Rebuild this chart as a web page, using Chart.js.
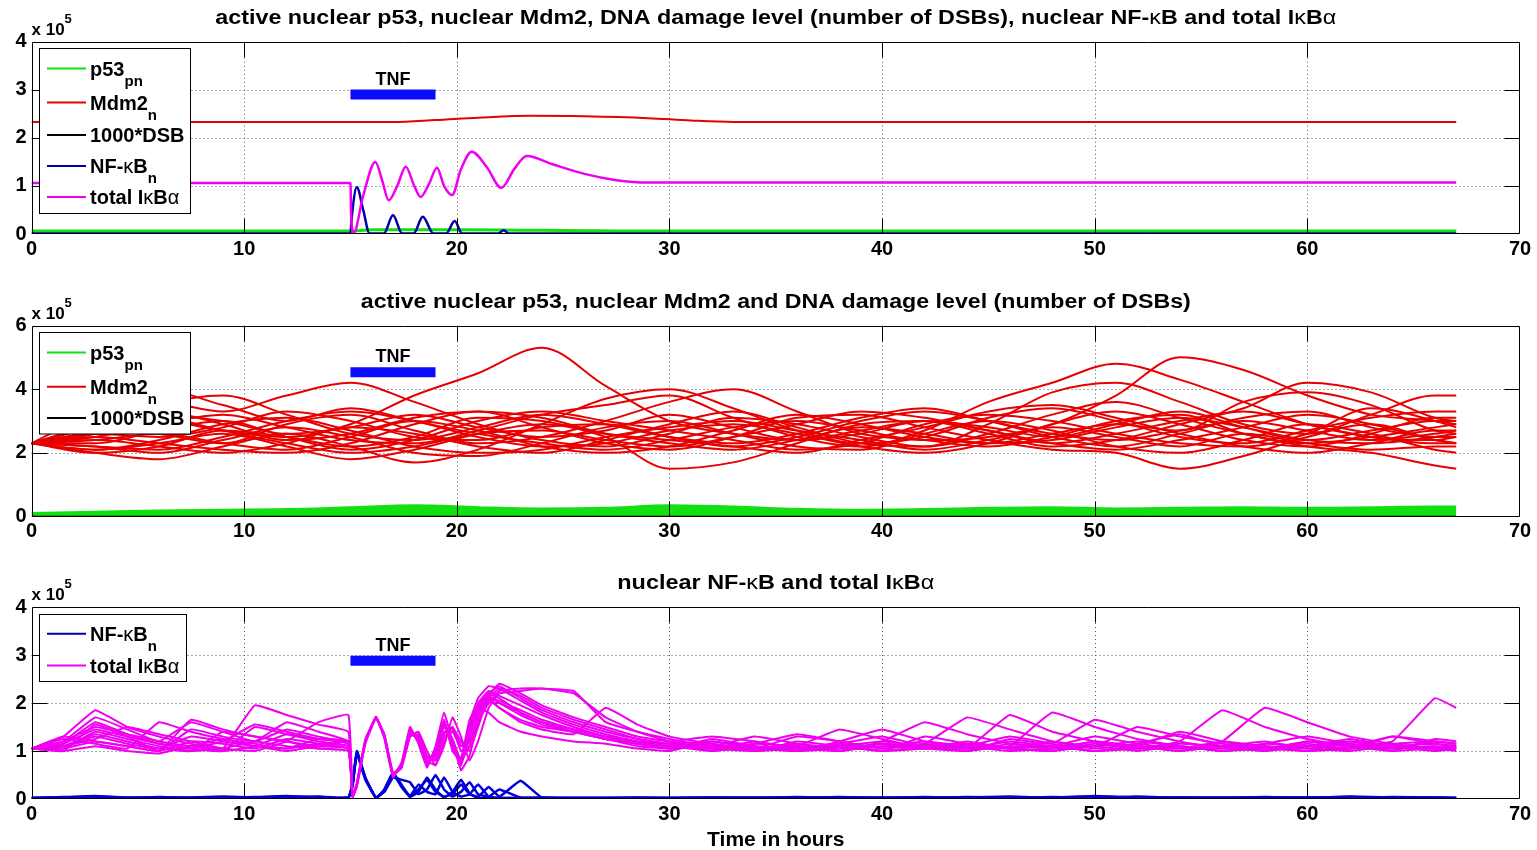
<!DOCTYPE html>
<html lang="es">
<head>
<meta charset="utf-8">
<title>p53 / NF-kB</title>
<script src="https://cdn.jsdelivr.net/npm/chart.js@4/dist/chart.umd.min.js"></script>
<style>
  html, body { margin: 0; padding: 0; background: #fff; }
  body { width: 1537px; height: 850px; position: relative; overflow: hidden; }
  canvas { position: absolute; left: 0; }
</style>
</head>
<body>
<canvas id="panel1" width="1537" height="270" style="top:0px"></canvas>
<canvas id="panel2" width="1537" height="280" style="top:270px"></canvas>
<canvas id="panel3" width="1537" height="300" style="top:550px"></canvas>
<script>
// ---- Datos (valores en unidades de 10^5, tiempo en horas) ----
const ticksX = [0, 10, 20, 30, 40, 50, 60, 70];
const ticksYP1 = [0, 1, 2, 3, 4];
const ticksYP2 = [0, 2, 4, 6];
const ticksYP3 = [0, 1, 2, 3, 4];

// ventana del pulso TNF y altura de la barra en cada panel
const tnfVentana = [15, 19];
const tnfNivel = [2.9, 4.53, 2.88];

// Panel 1: una sola simulacion
const p1P53T = [0, 15, 16, 20, 23, 26, 28, 67];
const p1P53 = [0.06, 0.06, 0.09, 0.09, 0.08, 0.07, 0.06, 0.06];
const p1Mdm2T = [0, 17, 19, 21, 23.5, 26, 29, 31, 33, 67];
const p1Mdm2 = [2.33, 2.33, 2.37, 2.42, 2.46, 2.45, 2.41, 2.36, 2.33, 2.33];
const p1DsbT = [0, 67];
const p1Dsb = [0, 0];
const p1NfkbT = [0, 15, 15.05, 15.3, 15.6, 15.9, 16.57, 17.0, 17.43, 17.97, 18.4, 18.9, 19.5, 19.9, 20.25, 21.95, 22.2, 22.45, 67];
const p1Nfkb = [0.01, 0.01, 0.3, 0.97, 0.5, 0.01, 0.01, 0.39, 0.01, 0.01, 0.36, 0.01, 0.01, 0.27, 0.01, 0.01, 0.08, 0.01, 0.01];
const p1IkbaT = [0, 15, 15.03, 15.15, 15.6, 16.17, 16.5, 16.8, 17.2, 17.6, 18.0, 18.3, 18.7, 19.07, 19.4, 19.78, 20.2, 20.7, 21.4, 22.1, 22.7, 23.3, 24.5, 26, 27.5, 29, 67];
const p1Ikba = [1.06, 1.06, 0.4, 0.02, 0.8, 1.5, 1.1, 0.7, 1.0, 1.4, 1.0, 0.77, 1.05, 1.38, 1.0, 0.81, 1.35, 1.71, 1.4, 0.96, 1.35, 1.62, 1.45, 1.25, 1.12, 1.07, 1.07];

// Panel 2: trayectorias estocasticas de Mdm2 y banda de p53
const tiempoP2 = [0, 3, 6, 9, 12, 15, 18, 21, 24, 27, 30, 33, 36, 39, 42, 45, 48, 51, 54, 57, 60, 63, 66, 67];
const p2Mdm2 = [
  [2.3, 2.6, 3.0, 2.7, 2.5, 2.9, 3.8, 4.5, 5.3, 4.1, 3.0, 2.6, 2.4, 2.7, 3.0, 2.8, 2.5, 2.9, 3.3, 2.8, 2.4, 2.7, 3.0, 3.0],
  [2.3, 2.9, 3.6, 3.3, 3.8, 4.2, 3.6, 2.9, 2.4, 2.2, 2.6, 3.1, 2.9, 2.5, 2.2, 2.6, 3.2, 3.6, 3.1, 2.6, 2.3, 2.5, 2.8, 2.9],
  [2.3, 3.3, 4.0, 3.5, 3.0, 3.4, 3.0, 2.6, 2.3, 2.1, 2.4, 2.8, 3.0, 2.7, 2.4, 2.5, 2.9, 3.8, 5.0, 4.6, 3.8, 3.2, 3.0, 2.9],
  [2.3, 2.0, 1.8, 2.2, 2.6, 2.2, 1.7, 2.1, 2.9, 3.7, 4.0, 3.4, 2.7, 2.3, 2.5, 3.1, 3.4, 3.0, 2.5, 2.3, 2.7, 3.1, 3.3, 3.3],
  [2.3, 2.5, 2.9, 3.2, 2.8, 2.4, 2.3, 2.7, 3.2, 3.5, 3.8, 3.1, 2.5, 2.2, 2.7, 3.6, 4.2, 4.8, 4.3, 3.6, 2.9, 2.5, 2.3, 2.3],
  [2.3, 2.1, 2.3, 2.6, 2.2, 1.8, 2.1, 2.6, 2.9, 2.5, 1.5, 1.7, 2.3, 2.9, 3.0, 2.6, 2.2, 2.4, 2.9, 3.4, 4.2, 3.9, 3.1, 3.0],
  [2.3, 2.7, 3.3, 2.9, 2.4, 2.6, 3.1, 3.3, 2.8, 2.3, 2.1, 2.5, 3.1, 3.2, 2.8, 2.4, 2.1, 2.0, 1.5, 1.9, 2.5, 2.9, 2.4, 2.3],
  [2.3, 2.4, 2.2, 2.0, 2.3, 2.8, 2.6, 2.2, 2.0, 2.4, 2.9, 3.3, 2.8, 2.3, 2.2, 2.9, 3.9, 4.2, 3.6, 2.9, 2.6, 3.2, 3.8, 3.8],
  [2.3, 2.8, 2.6, 2.3, 2.9, 3.2, 2.7, 2.3, 2.5, 3.0, 3.6, 4.0, 3.3, 2.6, 2.4, 2.2, 2.5, 3.0, 3.2, 2.6, 2.2, 2.0, 1.6, 1.5],
  [2.3, 2.2, 2.0, 2.4, 2.8, 2.5, 2.0, 1.9, 2.3, 2.8, 3.0, 2.6, 2.2, 2.1, 2.6, 3.0, 2.7, 2.2, 2.0, 2.4, 2.9, 2.6, 2.1, 2.0],
  [2.3, 2.6, 2.5, 2.8, 3.3, 3.0, 2.5, 2.4, 2.8, 2.9, 2.5, 2.2, 2.5, 3.0, 3.3, 3.0, 2.5, 2.2, 2.6, 3.1, 3.3, 2.8, 2.5, 2.5],
  [2.3, 2.3, 2.7, 3.0, 2.5, 2.1, 2.4, 3.0, 3.3, 3.0, 2.7, 2.4, 2.1, 2.3, 2.9, 3.2, 3.0, 2.6, 2.3, 2.2, 2.6, 3.4, 3.0, 2.8],
  [2.3, 2.5, 2.3, 2.1, 2.0, 2.3, 2.9, 3.3, 3.1, 2.6, 2.3, 2.1, 2.4, 2.8, 2.6, 2.3, 2.6, 2.9, 2.7, 3.6, 3.9, 3.5, 2.7, 2.6],
  [2.3, 2.1, 2.4, 2.9, 3.1, 2.7, 2.2, 2.0, 2.1, 2.5, 2.8, 3.0, 2.7, 2.4, 2.1, 2.4, 2.8, 2.5, 2.2, 2.6, 2.3, 2.1, 2.2, 2.2],
  [2.3, 2.7, 3.5, 3.8, 3.2, 2.6, 2.4, 2.8, 3.2, 2.9, 2.5, 2.3, 2.6, 3.1, 3.4, 3.0, 2.6, 2.4, 2.7, 3.0, 2.7, 2.4, 2.6, 2.7],
  [2.3, 2.4, 2.6, 2.3, 2.1, 2.5, 3.0, 2.7, 2.2, 2.0, 2.2, 2.7, 3.2, 2.9, 2.5, 2.3, 2.4, 2.8, 3.1, 2.8, 2.4, 2.3, 2.5, 2.6],
  [2.3, 2.2, 2.1, 2.5, 3.0, 3.3, 3.0, 2.5, 2.2, 2.3, 2.7, 2.9, 2.6, 2.2, 2.0, 2.3, 2.9, 3.3, 2.9, 2.4, 2.2, 2.6, 3.1, 3.1],
  [2.3, 2.6, 3.1, 2.7, 2.3, 2.0, 2.2, 2.6, 2.7, 2.4, 2.2, 2.5, 2.9, 3.3, 3.1, 2.7, 2.3, 2.1, 2.4, 2.8, 3.2, 2.9, 2.4, 2.3],
  [2.3, 2.0, 2.2, 2.7, 2.5, 2.2, 2.5, 3.1, 3.0, 2.6, 2.4, 2.2, 2.0, 2.4, 2.8, 3.3, 3.5, 3.1, 2.6, 2.2, 2.0, 2.3, 2.7, 2.7],
  [2.3, 2.8, 3.2, 3.0, 2.6, 2.8, 3.2, 2.8, 2.5, 2.7, 3.2, 2.8, 2.4, 2.6, 3.0, 2.7, 2.3, 2.6, 3.0, 3.3, 2.9, 2.5, 2.4, 2.5]
];
// borde superior de la banda verde de p53
const p2P53Sup = [0.12, 0.16, 0.2, 0.22, 0.24, 0.3, 0.36, 0.3, 0.26, 0.28, 0.36, 0.32, 0.25, 0.22, 0.24, 0.28, 0.3, 0.26, 0.28, 0.3, 0.28, 0.3, 0.32, 0.32];
const p2DsbT = [0, 67];
const p2Dsb = [0, 0];

// Panel 3: trayectorias de IkBa total y NF-kB nuclear
const tiempoP3 = [0, 1.5, 3, 4.5, 6, 7.5, 9, 10.5, 12, 13.5, 14.9,
  15.1, 15.3, 15.7, 16.2, 16.6, 17.0, 17.4, 17.8, 18.2, 18.6, 19.0, 19.4, 19.8, 20.2, 20.6, 21.0, 21.5, 22.0,
  23, 24, 25.5, 27, 28.5, 30,
  32, 34, 36, 38, 40, 42, 44, 46, 48, 50, 52, 54, 56, 58, 60, 62, 64, 66, 67];
const p3Ikba = [
  [1.05, 1.3, 1.85, 1.5, 1.3, 1.15, 1.05, 1.95, 1.75, 1.55, 1.4, 0.05, 0.3, 1.2, 1.72, 1.3, 0.5, 0.7, 1.45, 1.2, 0.7, 1.05, 1.65, 1.0, 0.8, 1.6, 2.1, 2.35, 2.3, 2.05, 1.8, 1.55, 1.35, 1.2, 1.1, 1.15, 1.0, 1.1, 1.45, 1.25, 1.05, 1.1, 1.3, 1.15, 1.0, 1.1, 1.4, 1.2, 1.05, 1.1, 1.25, 1.1, 1.05, 1.1],
  [1.05, 1.2, 1.7, 1.45, 1.2, 1.6, 1.4, 1.2, 1.45, 1.3, 1.15, 0.05, 0.35, 1.25, 1.7, 1.25, 0.45, 0.75, 1.5, 1.15, 0.65, 1.1, 1.8, 1.2, 0.6, 0.9, 1.6, 2.0, 2.25, 2.3, 2.3, 2.25, 1.6, 1.4, 1.25, 1.1, 1.3, 1.15, 1.0, 1.2, 1.6, 1.35, 1.15, 1.05, 1.2, 1.1, 1.0, 1.2, 1.9, 1.6, 1.3, 1.15, 1.05, 1.1],
  [1.05, 1.1, 1.25, 1.5, 1.35, 1.2, 1.05, 1.0, 1.2, 1.6, 1.75, 0.05, 0.25, 1.15, 1.68, 1.35, 0.55, 0.65, 1.3, 1.35, 0.9, 0.8, 1.3, 1.4, 1.1, 1.3, 1.95, 2.2, 2.1, 1.8, 1.6, 1.45, 1.3, 1.2, 1.15, 1.0, 1.15, 1.35, 1.2, 1.05, 1.15, 1.7, 1.45, 1.2, 1.05, 1.15, 1.35, 1.1, 1.0, 1.2, 1.1, 1.3, 1.2, 1.15],
  [1.05, 1.0, 1.55, 1.3, 1.0, 1.65, 1.45, 1.3, 1.2, 1.05, 1.0, 0.05, 0.3, 1.2, 1.7, 1.3, 0.5, 0.7, 1.4, 1.25, 0.75, 0.95, 1.55, 1.1, 0.7, 1.3, 1.8, 2.05, 1.9, 1.65, 1.5, 1.4, 1.25, 1.15, 1.05, 1.25, 1.1, 1.0, 1.2, 1.45, 1.2, 1.05, 1.1, 1.8, 1.5, 1.25, 1.1, 1.0, 1.15, 1.3, 1.15, 1.05, 1.1, 1.05],
  [1.05, 1.25, 1.15, 1.05, 1.6, 1.4, 1.25, 1.15, 1.05, 1.25, 1.2, 0.05, 0.3, 1.2, 1.7, 1.3, 0.5, 0.75, 1.35, 1.3, 0.8, 0.7, 1.2, 1.5, 1.2, 1.0, 1.5, 2.15, 2.4, 2.2, 1.95, 1.7, 1.5, 1.3, 1.2, 1.3, 1.2, 1.05, 1.15, 1.3, 1.1, 1.0, 1.25, 1.15, 1.65, 1.4, 1.2, 1.05, 1.1, 1.0, 1.2, 1.1, 1.0, 1.05],
  [1.05, 1.1, 1.35, 1.2, 1.05, 1.0, 1.4, 1.3, 1.2, 1.1, 1.05, 0.05, 0.3, 1.2, 1.7, 1.3, 0.5, 0.65, 1.3, 1.4, 1.0, 0.7, 1.1, 1.7, 1.3, 0.8, 1.2, 1.9, 2.2, 2.25, 2.3, 2.2, 1.7, 1.4, 1.2, 1.05, 1.0, 1.2, 1.1, 1.0, 1.3, 1.15, 1.05, 1.2, 1.1, 1.5, 1.3, 1.15, 1.05, 1.2, 1.1, 1.0, 1.25, 1.2],
  [1.05, 1.15, 1.6, 1.35, 1.15, 1.05, 1.0, 1.5, 1.35, 1.2, 1.1, 0.05, 0.3, 1.2, 1.7, 1.3, 0.5, 0.7, 1.4, 1.2, 0.7, 1.0, 1.6, 1.1, 0.75, 1.4, 1.9, 2.1, 1.9, 1.6, 1.45, 1.35, 1.9, 1.55, 1.3, 1.15, 1.05, 1.3, 1.2, 1.05, 1.15, 1.05, 1.75, 1.4, 1.2, 1.05, 1.2, 1.85, 1.5, 1.25, 1.1, 1.05, 1.2, 1.15],
  [1.05, 1.0, 1.1, 1.0, 0.95, 1.1, 1.0, 1.1, 1.35, 1.25, 1.15, 0.05, 0.3, 1.2, 1.7, 1.3, 0.5, 0.7, 1.4, 1.2, 0.75, 1.0, 1.5, 1.25, 0.8, 1.1, 1.75, 2.0, 2.0, 1.8, 1.6, 1.4, 1.25, 1.1, 1.05, 1.1, 1.0, 1.05, 1.1, 1.0, 1.05, 1.2, 1.05, 1.0, 1.1, 1.0, 1.1, 1.0, 1.05, 1.0, 1.1, 1.2, 2.1, 1.9],
  [1.05, 1.3, 1.2, 1.1, 1.0, 1.45, 1.3, 1.2, 1.6, 1.4, 1.2, 0.05, 0.3, 1.2, 1.7, 1.3, 0.5, 0.7, 1.45, 1.2, 0.7, 1.05, 1.6, 1.05, 0.85, 1.65, 1.9, 1.8, 1.6, 1.4, 1.3, 1.2, 1.15, 1.05, 1.0, 1.2, 1.05, 1.0, 1.1, 1.2, 1.1, 1.0, 1.15, 1.1, 1.3, 1.15, 1.05, 1.2, 1.1, 1.0, 1.05, 1.3, 1.15, 1.1],
  [1.05, 1.05, 1.4, 1.25, 1.1, 1.0, 1.05, 1.2, 1.1, 1.05, 1.0, 0.05, 0.3, 1.2, 1.7, 1.3, 0.5, 0.7, 1.35, 1.3, 0.85, 0.9, 1.4, 1.45, 1.0, 1.2, 1.7, 2.2, 2.35, 2.1, 1.85, 1.6, 1.4, 1.25, 1.15, 1.05, 1.2, 1.05, 1.0, 1.1, 1.05, 1.15, 1.05, 1.1, 1.0, 1.1, 1.05, 1.1, 1.2, 1.05, 1.15, 1.0, 1.05, 1.0],
  [1.05, 1.15, 1.45, 1.3, 1.15, 1.05, 1.2, 1.55, 1.4, 1.25, 1.15, 0.05, 0.3, 1.2, 1.7, 1.3, 0.5, 0.7, 1.4, 1.25, 0.75, 1.0, 1.55, 1.15, 0.75, 1.35, 1.85, 2.1, 2.05, 1.85, 1.65, 1.45, 1.3, 1.2, 1.1, 1.05, 1.15, 1.1, 1.0, 1.15, 1.05, 1.0, 1.1, 1.05, 1.2, 1.1, 1.0, 1.1, 1.05, 1.15, 1.05, 1.1, 1.15, 1.1],
  [1.05, 1.1, 1.3, 1.15, 1.05, 1.3, 1.2, 1.1, 1.05, 1.15, 1.1, 0.05, 0.3, 1.2, 1.7, 1.3, 0.5, 0.7, 1.45, 1.2, 0.7, 1.05, 1.6, 1.05, 0.8, 1.5, 2.0, 2.25, 2.15, 1.95, 1.75, 1.5, 1.3, 1.15, 1.05, 1.1, 1.05, 1.15, 1.05, 1.1, 1.2, 1.1, 1.0, 1.05, 1.1, 1.2, 1.1, 1.05, 1.15, 1.1, 1.05, 1.15, 1.2, 1.15],
  [1.05, 1.2, 1.5, 1.35, 1.2, 1.1, 1.25, 1.1, 1.0, 1.1, 1.2, 0.05, 0.3, 1.2, 1.7, 1.3, 0.5, 0.7, 1.35, 1.3, 0.85, 0.85, 1.35, 1.5, 1.1, 1.1, 1.6, 2.1, 2.3, 2.15, 1.9, 1.65, 1.45, 1.25, 1.15, 1.2, 1.1, 1.0, 1.05, 1.15, 1.1, 1.05, 1.2, 1.1, 1.0, 1.05, 1.15, 1.1, 1.0, 1.1, 1.2, 1.05, 1.1, 1.05],
  [1.05, 1.05, 1.2, 1.1, 1.0, 1.2, 1.15, 1.05, 1.25, 1.15, 1.05, 0.05, 0.3, 1.2, 1.7, 1.3, 0.5, 0.7, 1.4, 1.2, 0.7, 1.0, 1.65, 1.1, 0.75, 1.45, 1.95, 2.15, 2.0, 1.75, 1.55, 1.4, 1.25, 1.15, 1.1, 1.0, 1.1, 1.05, 1.15, 1.0, 1.1, 1.15, 1.05, 1.0, 1.15, 1.05, 1.1, 1.0, 1.1, 1.05, 1.0, 1.1, 1.05, 1.05]
];
const p3Nfkb = [
  [0.02, 0.04, 0.06, 0.03, 0.02, 0.03, 0.05, 0.03, 0.04, 0.05, 0.03, 0.3, 0.98, 0.45, 0.02, 0.2, 0.55, 0.3, 0.04, 0.15, 0.45, 0.2, 0.03, 0.15, 0.4, 0.12, 0.02, 0.02, 0.02, 0.02, 0.03, 0.02, 0.02, 0.03, 0.02, 0.03, 0.02, 0.04, 0.02, 0.03, 0.02, 0.03, 0.05, 0.02, 0.04, 0.02, 0.03, 0.02, 0.04, 0.02, 0.05, 0.03, 0.02, 0.02],
  [0.02, 0.02, 0.03, 0.02, 0.03, 0.02, 0.02, 0.04, 0.06, 0.03, 0.02, 0.28, 0.95, 0.4, 0.03, 0.18, 0.5, 0.28, 0.06, 0.3, 0.15, 0.1, 0.45, 0.15, 0.05, 0.1, 0.3, 0.05, 0.02, 0.02, 0.02, 0.02, 0.02, 0.02, 0.02, 0.02, 0.03, 0.02, 0.03, 0.02, 0.04, 0.02, 0.02, 0.03, 0.06, 0.03, 0.02, 0.03, 0.02, 0.03, 0.02, 0.04, 0.03, 0.02],
  [0.02, 0.03, 0.02, 0.02, 0.04, 0.02, 0.03, 0.02, 0.02, 0.04, 0.02, 0.32, 1.0, 0.42, 0.03, 0.15, 0.45, 0.4, 0.35, 0.1, 0.2, 0.5, 0.2, 0.05, 0.15, 0.35, 0.1, 0.05, 0.2, 0.03, 0.02, 0.02, 0.02, 0.02, 0.02, 0.02, 0.02, 0.03, 0.02, 0.02, 0.02, 0.04, 0.03, 0.02, 0.02, 0.05, 0.02, 0.02, 0.03, 0.02, 0.02, 0.02, 0.03, 0.02],
  [0.02, 0.02, 0.04, 0.02, 0.02, 0.02, 0.03, 0.02, 0.03, 0.02, 0.04, 0.3, 0.97, 0.44, 0.02, 0.2, 0.55, 0.25, 0.05, 0.2, 0.4, 0.15, 0.05, 0.1, 0.3, 0.1, 0.05, 0.25, 0.05, 0.38, 0.03, 0.02, 0.02, 0.02, 0.02, 0.03, 0.02, 0.02, 0.04, 0.02, 0.03, 0.02, 0.02, 0.04, 0.02, 0.02, 0.03, 0.02, 0.02, 0.03, 0.04, 0.02, 0.02, 0.02]
];

// ---- Colores ----
const VERDE = '#12e012';
const ROJO = '#e80000';
const AZUL = '#0000d8';
const AZUL_OSC = '#0000a8';
const MAGENTA = '#f000f0';
const NEGRO = '#000000';

const FUENTE = '"Liberation Sans", Arial, Helvetica, sans-serif';

// textos con subindices y letras griegas: [texto, tipo] b=negrita g=griega s=subindice p=superindice
const T_P53 = [['p53'], ['pn', 's']];
const T_MDM2 = [['Mdm2'], ['n', 's']];
const T_DSB = [['1000*DSB']];
const T_NFKB = [['NF-'], ['κ', 'g'], ['B'], ['n', 's']];
const T_IKBA = [['total I'], ['κ', 'g'], ['B'], ['α', 'g']];

// configuracion decorativa de cada panel (titulo, leyenda, etc.)
const decorPanel = {
  panel1: {
    titulo: [['active nuclear p53, nuclear Mdm2, DNA damage level (number of DSBs), nuclear NF-'], ['κ', 'g'], ['B and total I'], ['κ', 'g'], ['B'], ['α', 'g']],
    anchoTitulo: 1121,
    tnf: tnfNivel[0],
    leyenda: { w: 151, h: 165, filas: [20, 54, 86.5, 117.5, 148.5],
      items: [[T_P53, VERDE], [T_MDM2, ROJO], [T_DSB, NEGRO], [T_NFKB, AZUL_OSC], [T_IKBA, MAGENTA]] }
  },
  panel2: {
    titulo: [['active nuclear p53, nuclear Mdm2 and DNA damage level (number of DSBs)']],
    anchoTitulo: 830,
    tnf: tnfNivel[1],
    leyenda: { w: 151, h: 101.5, filas: [20, 54.3, 85.6],
      items: [[T_P53, VERDE], [T_MDM2, ROJO], [T_DSB, NEGRO]] }
  },
  panel3: {
    titulo: [['nuclear NF-'], ['κ', 'g'], ['B and total I'], ['κ', 'g'], ['B'], ['α', 'g']],
    anchoTitulo: 317,
    tnf: tnfNivel[2],
    ejeX: 'Time in hours',
    leyenda: { w: 147, h: 67, filas: [19.3, 51],
      items: [[T_NFKB, AZUL_OSC], [T_IKBA, MAGENTA]] }
  }
};

// fuente segun el tipo de segmento
function fuenteSeg(ctx, seg, tam) {
  const tipo = seg[1] || 'b';
  let t = tam, peso = 'bold';
  if (tipo === 'g') peso = 'normal';
  if (tipo === 's' || tipo === 'p') t = Math.round(tam * 0.75);
  ctx.font = `${peso} ${t}px ${FUENTE}`;
}

function anchoRico(ctx, segs, tam) {
  let w = 0;
  segs.forEach(s => { fuenteSeg(ctx, s, tam); w += ctx.measureText(s[0]).width; });
  return w;
}

// dibuja texto enriquecido; x,y = linea base
function textoRico(ctx, segs, x, y, tam, alinear, anchoObjetivo) {
  const w = anchoRico(ctx, segs, tam);
  const sx = anchoObjetivo ? anchoObjetivo / w : 1;
  ctx.save();
  ctx.translate(x, y);
  ctx.scale(sx, 1);
  ctx.fillStyle = '#000';
  ctx.textAlign = 'left';
  ctx.textBaseline = 'alphabetic';
  let cx = alinear === 'center' ? -w / 2 : 0;
  segs.forEach(s => {
    fuenteSeg(ctx, s, tam);
    const tipo = s[1] || 'b';
    const dy = tipo === 's' ? tam * 0.5 : tipo === 'p' ? -tam * 0.7 : 0;
    ctx.fillText(s[0], cx, dy);
    cx += ctx.measureText(s[0]).width;
  });
  ctx.restore();
}

function linea(ctx, x1, y1, x2, y2) {
  ctx.moveTo(x1, y1);
  ctx.lineTo(x2, y2);
}

// Plugin estilo MATLAB: rejilla punteada, caja, marcas, titulo, leyenda
const decorMatlab = {
  id: 'decorMatlab',
  beforeDatasetsDraw(chart) {
    const { ctx, chartArea: a, scales: { x, y } } = chart;
    ctx.save();
    ctx.strokeStyle = '#555';
    ctx.lineWidth = 1;
    ctx.setLineDash([1, 3]);
    ctx.beginPath();
    x.ticks.forEach(t => {
      if (t.value <= x.min || t.value >= x.max) return;
      const px = Math.round(x.getPixelForValue(t.value)) + 0.5;
      linea(ctx, px, a.top, px, a.bottom);
    });
    y.ticks.forEach(t => {
      if (t.value <= y.min || t.value >= y.max) return;
      const py = Math.round(y.getPixelForValue(t.value)) + 0.5;
      linea(ctx, a.left, py, a.right, py);
    });
    ctx.stroke();
    ctx.restore();
  },
  afterDatasetsDraw(chart) {
    const cfg = decorPanel[chart.canvas.id];
    const { ctx, chartArea: a, scales: { x, y } } = chart;
    const L = Math.round(a.left) + 0.5, R = Math.round(a.right) - 0.5;
    const T = Math.round(a.top) + 0.5, B = Math.round(a.bottom) - 0.5;
    ctx.save();
    // caja y marcas hacia dentro
    ctx.strokeStyle = '#000';
    ctx.lineWidth = 1;
    ctx.beginPath();
    ctx.rect(L, T, R - L, B - T);
    x.ticks.forEach(t => {
      if (t.value <= x.min || t.value >= x.max) return;
      const px = Math.round(x.getPixelForValue(t.value)) + 0.5;
      linea(ctx, px, B, px, B - 15);
      linea(ctx, px, T, px, T + 15);
    });
    y.ticks.forEach(t => {
      if (t.value <= y.min || t.value >= y.max) return;
      const py = Math.round(y.getPixelForValue(t.value)) + 0.5;
      linea(ctx, L, py, L + 15, py);
      linea(ctx, R, py, R - 15, py);
    });
    ctx.stroke();

    // titulo y multiplicador
    const cx = (a.left + a.right) / 2;
    textoRico(ctx, cfg.titulo, cx, a.top - 18, 20, 'center', cfg.anchoTitulo);
    textoRico(ctx, [['x 10'], ['5', 'p']], a.left, a.top - 7, 17, 'left');

    // etiqueta TNF sobre la barra
    const tx = x.getPixelForValue((tnfVentana[0] + tnfVentana[1]) / 2);
    textoRico(ctx, [['TNF']], tx, y.getPixelForValue(cfg.tnf) - 10, 18, 'center');

    // leyenda
    const lg = cfg.leyenda;
    const bx = Math.round(a.left + 7) + 0.5, by = Math.round(a.top + 6.5) + 0.5;
    ctx.fillStyle = '#fff';
    ctx.fillRect(bx, by, lg.w, lg.h);
    ctx.strokeStyle = '#000';
    ctx.strokeRect(bx, by, lg.w, lg.h);
    lg.items.forEach((it, i) => {
      const ry = by + lg.filas[i];
      ctx.strokeStyle = it[1];
      ctx.lineWidth = 2;
      ctx.beginPath();
      linea(ctx, bx + 7.5, ry, bx + 46.5, ry);
      ctx.stroke();
      textoRico(ctx, it[0], bx + 50.5, ry + 7, 20, 'left');
    });

    // etiqueta del eje x
    if (cfg.ejeX) textoRico(ctx, [[cfg.ejeX]], cx, a.bottom + 47, 21, 'center');
    ctx.restore();
  }
};

// serie de puntos (x,y) a partir de tiempos y valores
function serie(ts, vs, color, ancho, orden, suave, extra) {
  return Object.assign({
    data: ts.map((t, i) => ({ x: t, y: vs[i] })),
    borderColor: color,
    backgroundColor: color,
    borderWidth: ancho,
    order: orden,
    pointRadius: 0,
    fill: false,
    borderCapStyle: 'butt',
    tension: suave === 'mono' ? 0.4 : (suave || 0),
    cubicInterpolationMode: suave === 'mono' ? 'monotone' : 'default'
  }, extra || {});
}

function barraTnf(nivel) {
  return serie(tnfVentana, [nivel, nivel], '#0a0aff', 10, 0, 0);
}

function crearPanel(id, datasets, ticksY, arriba, altoEjeX) {
  const fuenteTicks = { family: FUENTE, weight: 'bold', size: 20 };
  return new Chart(document.getElementById(id), {
    type: 'line',
    data: { datasets },
    options: {
      responsive: false,
      animation: false,
      events: [],
      layout: { padding: { top: arriba, right: 17, bottom: 0, left: 0 } },
      plugins: { legend: { display: false }, tooltip: { enabled: false }, title: { display: false } },
      scales: {
        x: {
          type: 'linear',
          min: ticksX[0],
          max: ticksX[ticksX.length - 1],
          afterBuildTicks: s => { s.ticks = ticksX.map(v => ({ value: v })); },
          afterFit: s => { s.height = altoEjeX; },
          ticks: { color: '#000', font: fuenteTicks, padding: 3, maxRotation: 0, autoSkip: false },
          grid: { display: false, drawTicks: false },
          border: { display: false }
        },
        y: {
          type: 'linear',
          min: ticksY[0],
          max: ticksY[ticksY.length - 1],
          afterBuildTicks: s => { s.ticks = ticksY.map(v => ({ value: v })); },
          afterFit: s => { s.width = 31.5; },
          ticks: { color: '#000', font: fuenteTicks, padding: 5 },
          grid: { display: false, drawTicks: false },
          border: { display: false }
        }
      }
    },
    plugins: [decorMatlab]
  });
}

// Panel 1
crearPanel('panel1', [
  barraTnf(tnfNivel[0]),
  serie(p1IkbaT, p1Ikba, MAGENTA, 2.5, 1, 'mono'),
  serie(p1NfkbT, p1Nfkb, AZUL_OSC, 2.5, 2, 'mono'),
  serie(p1DsbT, p1Dsb, NEGRO, 1.5, 3),
  serie(p1Mdm2T, p1Mdm2, ROJO, 2, 4, 'mono'),
  serie(p1P53T, p1P53, VERDE, 3, 5, 'mono')
], ticksYP1, 41.7, 36);

// Panel 2
crearPanel('panel2', [
  barraTnf(tnfNivel[1]),
  serie(p2DsbT, p2Dsb, NEGRO, 1.5, 3),
  ...p2Mdm2.map(v => serie(tiempoP2, v, ROJO, 2, 4, 'mono')),
  serie(tiempoP2, p2P53Sup, VERDE, 1.5, 5, 'mono', { fill: 'origin' })
], ticksYP2, 55.5, 33.5);

// Panel 3
crearPanel('panel3', [
  barraTnf(tnfNivel[2]),
  ...p3Ikba.map(v => serie(tiempoP3, v, MAGENTA, 2, 1, 0.1)),
  ...p3Nfkb.map(v => serie(tiempoP3, v, AZUL, 2.5, 2, 0.1))
], ticksYP3, 57, 51);
</script>
</body>
</html>
